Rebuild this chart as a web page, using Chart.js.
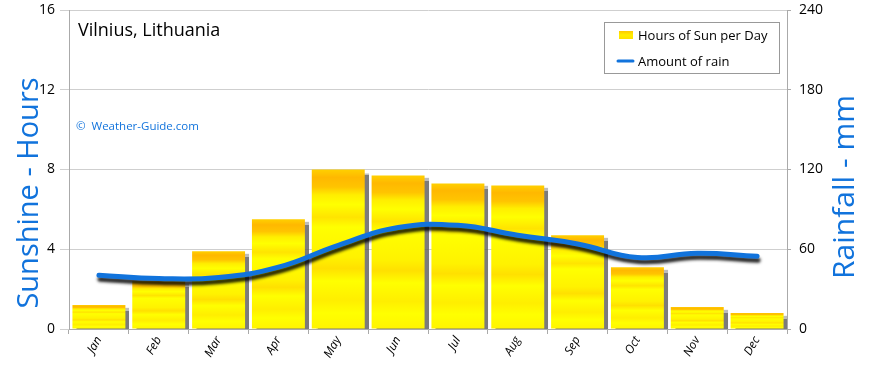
<!DOCTYPE html>
<html>
<head>
<meta charset="utf-8">
<script src="https://cdn.jsdelivr.net/npm/chart.js@4"></script>
<style>
  html, body { margin: 0; padding: 0; background: #fff; }
  #wrap { width: 870px; height: 368px; position: relative; }
</style>
</head>
<body>
<div id="wrap"><canvas id="sun-chart" width="870" height="368"></canvas></div>
<script>
// Vilnius sunshine / rainfall chart

const months = ['Jan', 'Feb', 'Mar', 'Apr', 'May', 'Jun', 'Jul', 'Aug', 'Sep', 'Oct', 'Nov', 'Dec'];
const sunHours = [1.2, 2.4, 3.9, 5.5, 8.0, 7.7, 7.3, 7.2, 4.7, 3.1, 1.1, 0.8];
const rainMm = [40.5, 38, 38.8, 46.5, 63, 76.3, 78, 70.5, 64, 53.8, 57, 54.7];
const sunTicks = [0, 4, 8, 12, 16];
const rainTicks = [0, 60, 120, 180, 240];

const FONT = '"Open Sans", sans-serif';
const BLUE = '#1173dc';

// yellow bar fill, orange band near the top like the original images
function barFill(ctx) {
  const chart = ctx.chart;
  if (!chart.chartArea || ctx.type !== 'data') return '#ffff00';
  const y = chart.scales.y;
  const top = y.getPixelForValue(ctx.parsed.y);
  const base = y.getPixelForValue(0);
  const g = chart.ctx.createLinearGradient(0, top, 0, base);
  g.addColorStop(0, '#ffd000');
  g.addColorStop(0.05, '#ffb800');
  g.addColorStop(0.11, '#ffc400');
  g.addColorStop(0.16, '#ffee00');
  g.addColorStop(0.22, '#ffff00');
  g.addColorStop(0.3, '#ffe400');
  g.addColorStop(0.36, '#ffff00');
  g.addColorStop(0.55, '#fff200');
  g.addColorStop(0.62, '#ffe000');
  g.addColorStop(0.7, '#ffff00');
  g.addColorStop(0.82, '#ffee00');
  g.addColorStop(0.9, '#ffff00');
  g.addColorStop(1, '#fff400');
  return g;
}

// drop shadows for the bars and the rain line
const shadowPlugin = {
  id: 'shadows',
  beforeDatasetDraw(chart, args) {
    const ctx = chart.ctx;
    ctx.save();
    if (args.meta.type === 'bar') {
      ctx.shadowColor = 'rgba(90,90,90,0.8)';
      ctx.shadowOffsetX = 4;
      ctx.shadowOffsetY = 3;
      ctx.shadowBlur = 1;
    } else {
      ctx.shadowColor = 'rgba(0,0,0,0.85)';
      ctx.shadowOffsetX = 1;
      ctx.shadowOffsetY = 4;
      ctx.shadowBlur = 3;
    }
  },
  afterDatasetDraw(chart) {
    chart.ctx.restore();
  }
};

// titles, watermark and boxed legend
const decorPlugin = {
  id: 'decor',
  afterDraw(chart) {
    const ctx = chart.ctx;
    const area = chart.chartArea;
    ctx.save();

    ctx.fillStyle = '#000';
    ctx.font = '18px ' + FONT;
    ctx.textBaseline = 'middle';
    ctx.textAlign = 'left';
    ctx.fillText('Vilnius, Lithuania', area.left + 9, 31);

    ctx.fillStyle = BLUE;
    ctx.font = '11.5px ' + FONT;
    ctx.fillText('\u00a9  Weather-Guide.com', area.left + 7, 127);

    // axis titles
    ctx.textAlign = 'center';
    ctx.save();
    ctx.font = '29px ' + FONT;
    ctx.translate(30, 193);
    ctx.rotate(-Math.PI / 2);
    ctx.fillText('Sunshine - Hours', 0, 0);
    ctx.restore();
    ctx.save();
    ctx.font = '30px ' + FONT;
    ctx.translate(845, 187);
    ctx.rotate(-Math.PI / 2);
    ctx.fillText('Rainfall - mm', 0, 0);
    ctx.restore();

    // legend box
    const lx = 604, ly = 22, lw = 175, lh = 51;
    ctx.fillStyle = '#fff';
    ctx.fillRect(lx, ly, lw, lh);
    ctx.strokeStyle = '#999';
    ctx.lineWidth = 1;
    ctx.strokeRect(lx + 0.5, ly + 0.5, lw, lh);

    const sw = ctx.createLinearGradient(0, 31, 0, 39);
    sw.addColorStop(0, '#ffc800');
    sw.addColorStop(0.5, '#ffee00');
    sw.addColorStop(1, '#ffe000');
    ctx.fillStyle = sw;
    ctx.fillRect(619, 31, 14, 8);

    ctx.strokeStyle = BLUE;
    ctx.lineWidth = 3;
    ctx.lineCap = 'round';
    ctx.beginPath();
    ctx.moveTo(618, 61);
    ctx.lineTo(633, 61);
    ctx.stroke();

    ctx.fillStyle = '#000';
    ctx.font = '13px ' + FONT;
    ctx.textAlign = 'left';
    const ds = chart.data.datasets;
    ctx.fillText(ds[1].label, 638, 36);
    ctx.fillText(ds[0].label, 638, 62);
    ctx.restore();
  }
};

new Chart(document.getElementById('sun-chart'), {
  data: {
    labels: months,
    datasets: [
      {
        type: 'line',
        label: 'Amount of rain',
        data: rainMm,
        yAxisID: 'y2',
        borderColor: BLUE,
        borderWidth: 5,
        borderCapStyle: 'round',
        pointRadius: 0,
        tension: 0.45,
        order: 0
      },
      {
        type: 'bar',
        label: 'Hours of Sun per Day',
        data: sunHours,
        yAxisID: 'y',
        backgroundColor: barFill,
        borderWidth: 0,
        categoryPercentage: 1,
        barPercentage: 0.885,
        clip: 0,
        order: 1
      }
    ]
  },
  options: {
    responsive: false,
    animation: false,
    devicePixelRatio: 1,
    layout: { padding: { top: 10, left: 0, right: 0, bottom: 0 } },
    plugins: {
      legend: { display: false },
      tooltip: { enabled: false }
    },
    scales: {
      x: {
        offset: true,
        grid: { display: true, offset: true, drawOnChartArea: false, drawTicks: true, tickLength: 5, color: '#aaa' },
        border: { color: '#aaa' },
        ticks: {
          maxRotation: 60, minRotation: 60, padding: 0,
          color: '#000', font: { family: FONT, size: 12, style: 'italic' }
        },
        afterFit(s) { s.height = 39; s.paddingLeft = 0; s.paddingRight = 0; }
      },
      y: {
        position: 'left',
        min: 0, max: 16,
        afterBuildTicks(s) { s.ticks = sunTicks.map(v => ({ value: v })); },
        grid: { color: '#cfcfcf', tickLength: 9 },
        border: { color: '#aaa' },
        ticks: { padding: 5, color: '#000', font: { family: FONT, size: 14 } },
        afterFit(s) { s.width = 69; s.paddingTop = 0; s.paddingBottom = 0; }
      },
      y2: {
        position: 'right',
        min: 0, max: 240,
        afterBuildTicks(s) { s.ticks = rainTicks.map(v => ({ value: v })); },
        grid: { drawOnChartArea: false, color: '#aaa', tickLength: 4 },
        border: { color: '#aaa' },
        ticks: { padding: 8, color: '#000', font: { family: FONT, size: 14 } },
        afterFit(s) { s.width = 83; s.paddingTop = 0; s.paddingBottom = 0; }
      }
    }
  },
  plugins: [shadowPlugin, decorPlugin]
});
</script>
</body>
</html>
